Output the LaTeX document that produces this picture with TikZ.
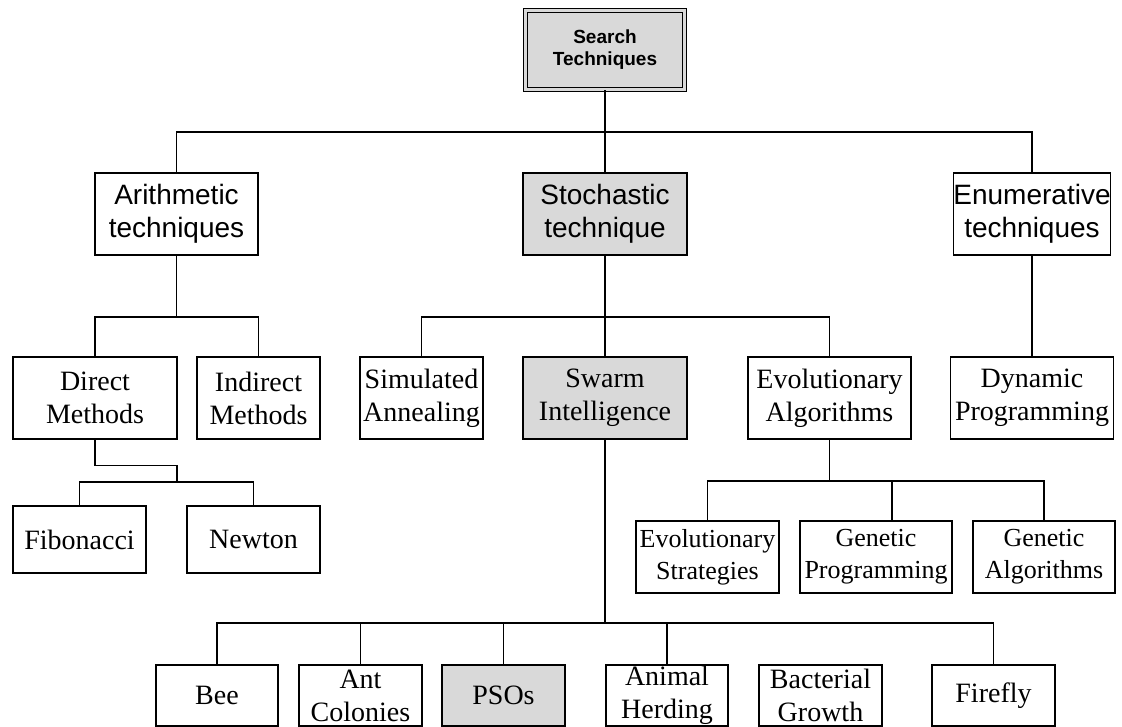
\documentclass[tikz,border=0pt]{standalone}
\usepackage{fontspec}
\setmainfont{Liberation Serif}
\newfontfamily\arialfont{Liberation Sans}
\usetikzlibrary{positioning}

\definecolor{boxgray}{RGB}{217,217,217}

\tikzset{
  conn/.style={draw=black, line width=1.2pt},
  basebox/.style={draw=black, line width=1.2pt, inner sep=0pt, align=center, anchor=center},
  sansbox/.style={basebox, font=\arialfont\fontsize{28}{33}\selectfont},
  serifbox/.style={basebox, font=\fontsize{28}{33}\selectfont},
  smallserif/.style={basebox, font=\fontsize{26}{32}\selectfont},
  shaded/.style={fill=boxgray},
  rootbox/.style={draw=black, line width=1.1pt, double=boxgray, double distance=2.6pt,
    fill=boxgray, inner sep=0pt, align=center,
    font=\arialfont\bfseries\fontsize{19}{22}\selectfont,
    minimum width=159pt, minimum height=79pt},
}

\begin{document}
\begin{tikzpicture}[x=1pt, y=-1pt]
  \useasboundingbox (0,0) rectangle (1122,727);

  % root
  \node[rootbox] (root) at (605,50) {Search\\Techniques};

  % first level
  \node[sansbox, minimum width=163pt, minimum height=82pt] (arith) at (176.5,214) {Arithmetic\\techniques};
  \node[sansbox, shaded, minimum width=164pt, minimum height=82pt] (stoch) at (605,214) {Stochastic\\technique};
  \node[sansbox, minimum width=156pt, minimum height=82pt] (enum) at (1032,214) {Enumerative\\techniques};

  % second level
  \node[serifbox, minimum width=164pt, minimum height=82pt] (direct) at (95,398) {Direct\\Methods};
  \node[serifbox, minimum width=123pt, minimum height=82pt] (indirect) at (258.5,398) {Indirect\\Methods};
  \node[serifbox, minimum width=123pt, minimum height=82pt] (sim) at (421.5,398) {Simulated\\Annealing};
  \node[serifbox, shaded, minimum width=164pt, minimum height=82pt] (swarm) at (605,398) {Swarm\\Intelligence};
  \node[serifbox, minimum width=163pt, minimum height=82pt] (evol) at (829.5,398) {Evolutionary\\Algorithms};
  \node[serifbox, minimum width=163pt, minimum height=82pt] (dp) at (1032,398) {Dynamic\\Programming};

  % arithmetic methods
  \node[serifbox, minimum width=133pt, minimum height=67pt] (fib) at (79.5,539.5) {Fibonacci};
  \node[serifbox, minimum width=133pt, minimum height=67pt] (newton) at (253.5,539.5) {Newton};

  % evolutionary algorithms
  \node[smallserif, minimum width=143pt, minimum height=72pt] (es) at (707.5,557) {Evolutionary\\Strategies};
  \node[smallserif, minimum width=152pt, minimum height=72pt] (gp) at (876,557) {Genetic\\Programming};
  \node[smallserif, minimum width=142pt, minimum height=72pt] (ga) at (1044,557) {Genetic\\Algorithms};

  % swarm intelligence
  \node[serifbox, minimum width=122pt, minimum height=61pt] (bee) at (217,695.5) {Bee};
  \node[serifbox, minimum width=123pt, minimum height=61pt] (ant) at (360.5,695.5) {Ant\\Colonies};
  \node[serifbox, shaded, minimum width=123pt, minimum height=61pt] (pso) at (503.5,695.5) {PSOs};
  \node[serifbox, minimum width=122pt, minimum height=61pt] (animal) at (667,695.5) {Animal\\Herding};
  \node[serifbox, minimum width=123pt, minimum height=61pt] (bact) at (820.5,695.5) {Bacterial\\Growth};
  \node[serifbox, minimum width=123pt, minimum height=61pt] (firefly) at (993.5,695.5) {Firefly};

  % branch points
  \coordinate (b1) at (605,132);
  \coordinate (b2) at (605,317);
  \coordinate (b3) at (176.5,317);
  \coordinate (b4) at (177,482);
  \coordinate (b5) at (829.5,481);
  \coordinate (b6) at (605,623);

  % root to first level
  \draw[conn] (root.south) -- (b1) -- (stoch.north);
  \draw[conn] (arith.north) |- (b1) -| (enum.north);

  % arithmetic branch
  \draw[conn] (arith.south) -- (b3);
  \draw[conn] (direct.north) |- (b3) -| (indirect.north);
  \draw[conn] (direct.south) -- ++(0,26) -| (b4);
  \draw[conn] (fib.north) |- (b4) -| (newton.north);

  % stochastic branch
  \draw[conn] (stoch.south) -- (b2) -- (swarm.north);
  \draw[conn] (sim.north) |- (b2) -| (evol.north);

  % enumerative branch
  \draw[conn] (enum.south) -- (dp.north);

  % evolutionary branch
  \draw[conn] (evol.south) -- (b5);
  \draw[conn] (es.north) |- (b5) -| ([xshift=16pt]gp.north);
  \draw[conn] (b5) -| (ga.north);

  % swarm branch
  \draw[conn] (swarm.south) -- (b6);
  \draw[conn] (bee.north) |- (b6) -| (firefly.north);
  \draw[conn] (ant.north) -- (ant.north |- b6);
  \draw[conn] (pso.north) -- (pso.north |- b6);
  \draw[conn] (animal.north) -- (animal.north |- b6);
\end{tikzpicture}
\end{document}
